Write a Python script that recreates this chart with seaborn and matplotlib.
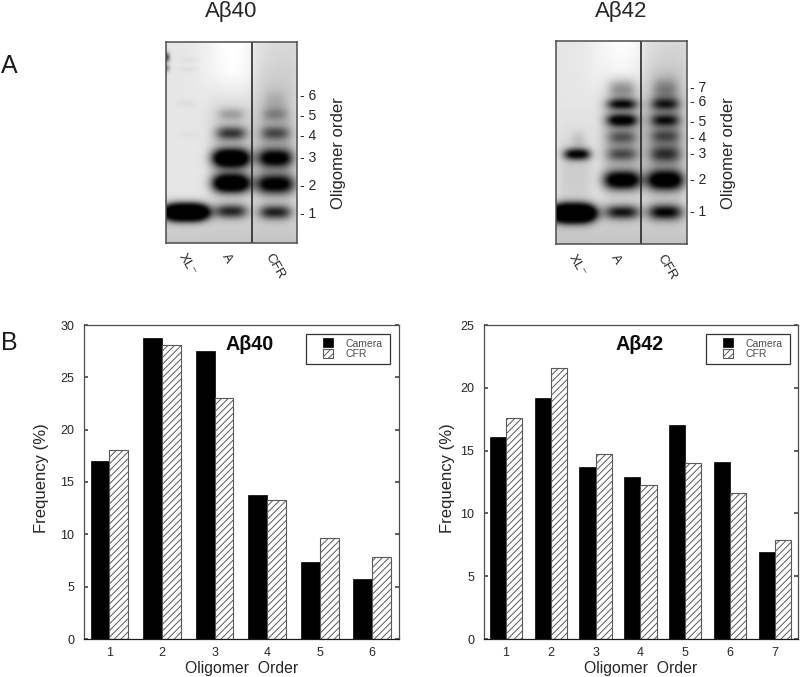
import numpy as np
import pandas as pd
import matplotlib
matplotlib.use('Agg')
import matplotlib.pyplot as plt
from matplotlib.patches import Rectangle
import seaborn as sns

W, H = 800, 677
TXT = '0.15'
SOFT = 1.35

orders_40 = [1, 2, 3, 4, 5, 6]
camera_40 = [17.0, 28.8, 27.5, 13.8, 7.4, 5.7]
cfr_40 = [18.1, 28.1, 23.0, 13.25, 9.65, 7.8]

orders_42 = [1, 2, 3, 4, 5, 6, 7]
camera_42 = [16.1, 19.2, 13.7, 12.9, 17.0, 14.1, 6.95]
cfr_42 = [17.6, 21.6, 14.75, 12.3, 14.05, 11.6, 7.85]

# gel bands: x centre, y centre, half width, half height, darkness (figure pixels)
bands_40 = [
    (186, 212, 21, 5.5, 2.6),
    (231, 211, 16, 5, 0.72), (231, 183, 18, 6.5, 1.5), (231, 158, 18, 6.5, 1.5),
    (231, 133, 15, 5, 0.62), (231, 114, 13, 4.5, 0.22),
    (275, 212, 16, 5, 0.72), (275, 184, 19, 7, 1.0), (275, 158, 17, 6.5, 0.95),
    (275, 133, 14, 5, 0.45), (275, 114, 12, 5, 0.25), (275, 100, 10, 7, 0.1),
    (190, 60, 8, 1.5, 0.05), (188, 69, 8, 1.5, 0.05), (186, 103, 9, 2, 0.04), (190, 135, 9, 1.5, 0.03),
    (167, 57, 2, 3, 0.8), (167, 68, 2, 2, 0.5),
]
bands_42 = [
    (573, 213, 21, 6, 2.6), (577, 154, 13, 4, 1.0), (578, 140, 7, 6, 0.1),
    (622, 212, 17, 5, 0.78), (622, 180, 18, 6.5, 1.15), (622, 154, 15, 5, 0.45),
    (622, 137, 14, 5, 0.4), (622, 120, 15, 4.5, 0.95), (622, 104, 15, 4, 0.82), (622, 89, 13, 7, 0.32),
    (665, 212, 17, 5.5, 0.85), (665, 180, 18, 7, 1.15), (665, 154, 15, 6, 0.52),
    (665, 136, 14, 5, 0.4), (665, 120, 14, 4.5, 0.66), (665, 104, 14, 4.5, 0.62), (665, 89, 12, 8, 0.28),
]
# lane smears: x centre, half width, y centre, half height, darkness
smears_40 = [(231, 22, 150, 50, 0.12), (275, 22, 140, 60, 0.2)]
smears_42 = [(622, 22, 140, 55, 0.2), (665, 22, 135, 60, 0.26), (575, 18, 175, 40, 0.1)]


def px_axes(fig, x0, y0, x1, y1):
    return fig.add_axes([x0 / W, 1 - y1 / H, (x1 - x0) / W, (y1 - y0) / H])


def blur(img, sigma=3.0):
    # small separable gaussian, sigma in image samples
    r = int(3 * sigma)
    k = np.exp(-0.5 * (np.arange(-r, r + 1) / sigma) ** 2)
    k = k / k.sum()
    img = np.pad(img, r, mode='edge')
    img = np.apply_along_axis(lambda v: np.convolve(v, k, mode='same'), 0, img)
    img = np.apply_along_axis(lambda v: np.convolve(v, k, mode='same'), 1, img)
    return img[r:-r, r:-r]


def draw_gel(fig, box, sep, bands, smears, ticks, lane_x, title):
    x0, y0, x1, y1 = box
    ax = px_axes(fig, x0, y0, x1, y1)
    xx, yy = np.meshgrid(np.arange(x0, x1, 0.5), np.arange(y0, y1, 0.5))
    d = 0.1 + 0.12 * np.clip((yy - y0 - 150) / 50, 0, 1)
    d = d - 0.1 * np.exp(-((xx - (sep - 20)) / 28) ** 2) * np.clip((y0 + 70 - yy) / 40, 0, 1)
    d = d + 0.04 * (xx > sep) * np.clip((y0 + 70 - yy) / 40, 0, 1)
    for cx, hw, cy, hh, a in smears:
        d = d + a * np.exp(-((xx - cx) / hw) ** 4 - ((yy - cy) / hh) ** 2)
    for cx, cy, hw, hh, a in bands:
        d = d + a * np.exp(-np.abs((xx - cx) / hw) ** 3 - ((yy - cy) / (hh * SOFT)) ** 2)
    ax.imshow(blur(1 - np.clip(d, 0, 1)), cmap='gray', vmin=0, vmax=1, aspect='auto',
              extent=[x0, x1, y1, y0], interpolation='bilinear')
    ax.axvline(sep, color='0.1', lw=1.1)
    for s in ax.spines.values():
        s.set_color('0.3')
        s.set_linewidth(1.1)
    ax.yaxis.tick_right()
    ax.set_yticks(list(ticks.values()))
    ax.set_yticklabels(['- {}'.format(k) for k in ticks], fontsize=10, color=TXT)
    ax.tick_params(axis='y', length=0, pad=2)
    ax.set_xticks(lane_x)
    ax.set_xticklabels(['XL\u207b', 'A', 'CFR'], rotation=-60, fontsize=9.5, color=TXT,
                       ha='center', va='top')
    ax.tick_params(axis='x', length=0, pad=6)
    fig.text((x1 + 41) / W, 1 - 153 / H, 'Oligomer order', rotation=90, fontsize=12,
             color=TXT, ha='center', va='center')
    fig.text((x0 + x1) / 2 / W, 1 - 11 / H, title, fontsize=16, color=TXT, ha='center', va='center')


def draw_bars(fig, box, orders, camera, cfr, ymax, ystep, title, title_x, ylab_x, legend_box):
    ax = px_axes(fig, *box)
    df = pd.DataFrame({'order': orders * 2, 'freq': camera + cfr,
                       'kind': ['Camera'] * len(orders) + ['CFR'] * len(orders)})
    sns.barplot(data=df, x='order', y='freq', hue='kind', palette={'Camera': 'black', 'CFR': 'white'},
                width=0.72, gap=0, errorbar=None, saturation=1, ax=ax, zorder=2)
    for p in ax.containers[0]:
        p.set_edgecolor('black')
        p.set_linewidth(0.5)
    for p in ax.containers[1]:
        p.set_edgecolor('0.35')
        p.set_linewidth(0.8)
        p.set_hatch('/////')
    ax.set_xlim(-0.485, len(orders) - 0.49)
    ax.set_ylim(0, ymax)
    ax.set_yticks(np.arange(0, ymax + 1, ystep))
    ax.tick_params(axis='y', direction='in', length=3, left=True, right=True, labelsize=9,
                   labelcolor=TXT, color='0.3', pad=7)
    ax.tick_params(axis='x', length=0, labelsize=9, labelcolor=TXT, pad=6)
    for s in ax.spines.values():
        s.set_color('0.3')
        s.set_linewidth(0.9)
    ax.spines['bottom'].set_color('0.1')
    ax.set_xlabel('Oligomer  Order', fontsize=11.3, color=TXT, labelpad=1)
    ax.set_ylabel('Frequency (%)', fontsize=12, color=TXT)
    ax.yaxis.set_label_coords(ylab_x, 0.513)
    ax.text(title_x, 0.939, title, transform=ax.transAxes, fontsize=14.2, fontweight='bold',
            ha='center', va='center', color='0.05')
    lx, ly, lw, lh = legend_box
    ax.add_patch(Rectangle((lx, ly), lw, lh, transform=ax.transAxes, facecolor='white',
                           edgecolor='0.2', linewidth=0.9, zorder=4))
    leg = ax.legend(handles=[ax.containers[0], ax.containers[1]], labels=['Camera', 'CFR'],
                    loc='upper right', bbox_to_anchor=(lx + lw - 0.009, ly + lh + 0.002),
                    bbox_transform=ax.transAxes, fontsize=7.5, frameon=False,
                    handlelength=0.95, handleheight=0.95, handletextpad=1.2, labelspacing=0.05,
                    borderpad=0.45, borderaxespad=0, labelcolor='0.3')
    leg.set_zorder(5)
    return ax


def main():
    sns.set_theme(style='white')
    plt.rcParams['font.family'] = ['Liberation Sans', 'DejaVu Sans']
    plt.rcParams['hatch.linewidth'] = 0.7
    plt.rcParams['hatch.color'] = '0.35'
    fig = plt.figure(figsize=(W / 100, H / 100), dpi=100)

    draw_gel(fig, (166, 42, 297, 243), 252, bands_40, smears_40,
             {6: 95, 5: 114, 4: 134, 3: 157, 2: 184, 1: 212}, [187, 227, 275], 'A\u03b240')
    draw_gel(fig, (556, 41, 687, 244), 641, bands_42, smears_42,
             {7: 86, 6: 101, 5: 120, 4: 136, 3: 153, 2: 179, 1: 210}, [577, 616, 667], 'A\u03b242')

    draw_bars(fig, (84, 325, 399, 639), orders_40, camera_40, cfr_40, 30, 5, 'A\u03b240', 0.527,
              -0.111, (0.705, 0.875, 0.267, 0.095))
    draw_bars(fig, (484, 325, 798, 639), orders_42, camera_42, cfr_42, 25, 5, 'A\u03b242', 0.494,
              -0.092, (0.707, 0.875, 0.267, 0.095))

    fig.text(1 / W, 1 - 66 / H, 'A', fontsize=18, color='0.1', va='center')
    fig.text(1 / W, 1 - 343 / H, 'B', fontsize=18, color='0.1', va='center')
    fig.savefig('out.png', dpi=100)


if __name__ == '__main__':
    main()
